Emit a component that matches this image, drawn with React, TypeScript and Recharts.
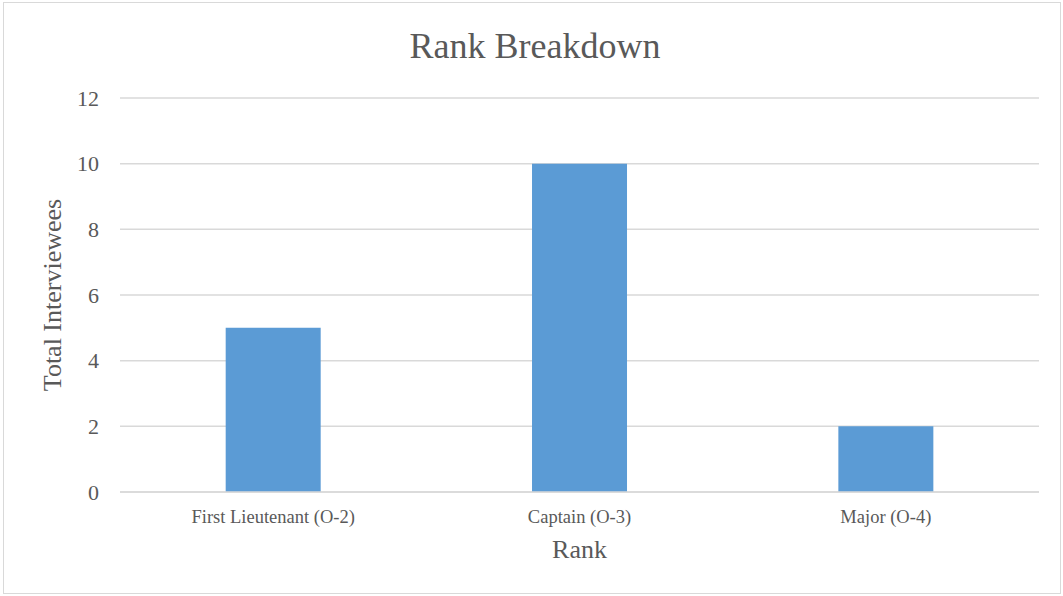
import { Bar, BarChart, CartesianGrid, XAxis, YAxis } from "recharts";

const ranks = ["First Lieutenant (O-2)", "Captain (O-3)", "Major (O-4)"];
const interviewees = [5, 10, 2];
const yTicks = [0, 2, 4, 6, 8, 10, 12];

const data = ranks.map((rank, i) => ({ rank, count: interviewees[i] }));

const FONT = '"Liberation Serif", "Times New Roman", serif';
const INK = "#595959";

export default function App() {
  return (
    <div style={{ position: "absolute", left: 0, top: 0, width: 1063, height: 596, background: "#fff", fontFamily: FONT }}>
      {/* thin frame round the whole chart, as in the exported picture */}
      <div
        style={{
          position: "absolute",
          left: 3,
          top: 2,
          width: 1058,
          height: 592,
          border: "1.5px solid #d9d9d9",
          boxSizing: "border-box",
        }}
      />
      <div
        style={{
          position: "absolute",
          left: 0,
          top: 22,
          width: 1070,
          textAlign: "center",
          fontSize: 36,
          color: INK,
          lineHeight: "48px",
        }}
      >
        Rank Breakdown
      </div>
      <div style={{ position: "absolute", left: 0, top: 0 }}>
        <BarChart
          width={1063}
          height={596}
          data={data}
          margin={{ top: 98, right: 24, bottom: 0, left: 0 }}
          barCategoryGap="34.5%"
        >
          <CartesianGrid vertical={false} stroke="#d9d9d9" strokeWidth={1.5} />
          <XAxis
            dataKey="rank"
            height={104}
            axisLine={{ stroke: "#d9d9d9", strokeWidth: 1.5 }}
            tickLine={false}
            tick={{ fontSize: 18.5, fill: INK, fontFamily: FONT }}
            tickMargin={12}
            label={{ value: "Rank", position: "insideTop", offset: 48, style: { fontSize: 26, fill: INK, fontFamily: FONT } }}
          />
          <YAxis
            width={120}
            domain={[0, 12]}
            ticks={yTicks}
            axisLine={false}
            tickLine={false}
            tick={{ fontSize: 22, fill: INK, fontFamily: FONT }}
            tickMargin={15}
            label={{
              value: "Total Interviewees",
              angle: -90,
              position: "insideLeft",
              offset: 52,
              style: { textAnchor: "middle", fontSize: 26, fill: INK, fontFamily: FONT },
            }}
          />
          <Bar dataKey="count" fill="#5b9bd5" isAnimationActive={false} />
        </BarChart>
      </div>
    </div>
  );
}
